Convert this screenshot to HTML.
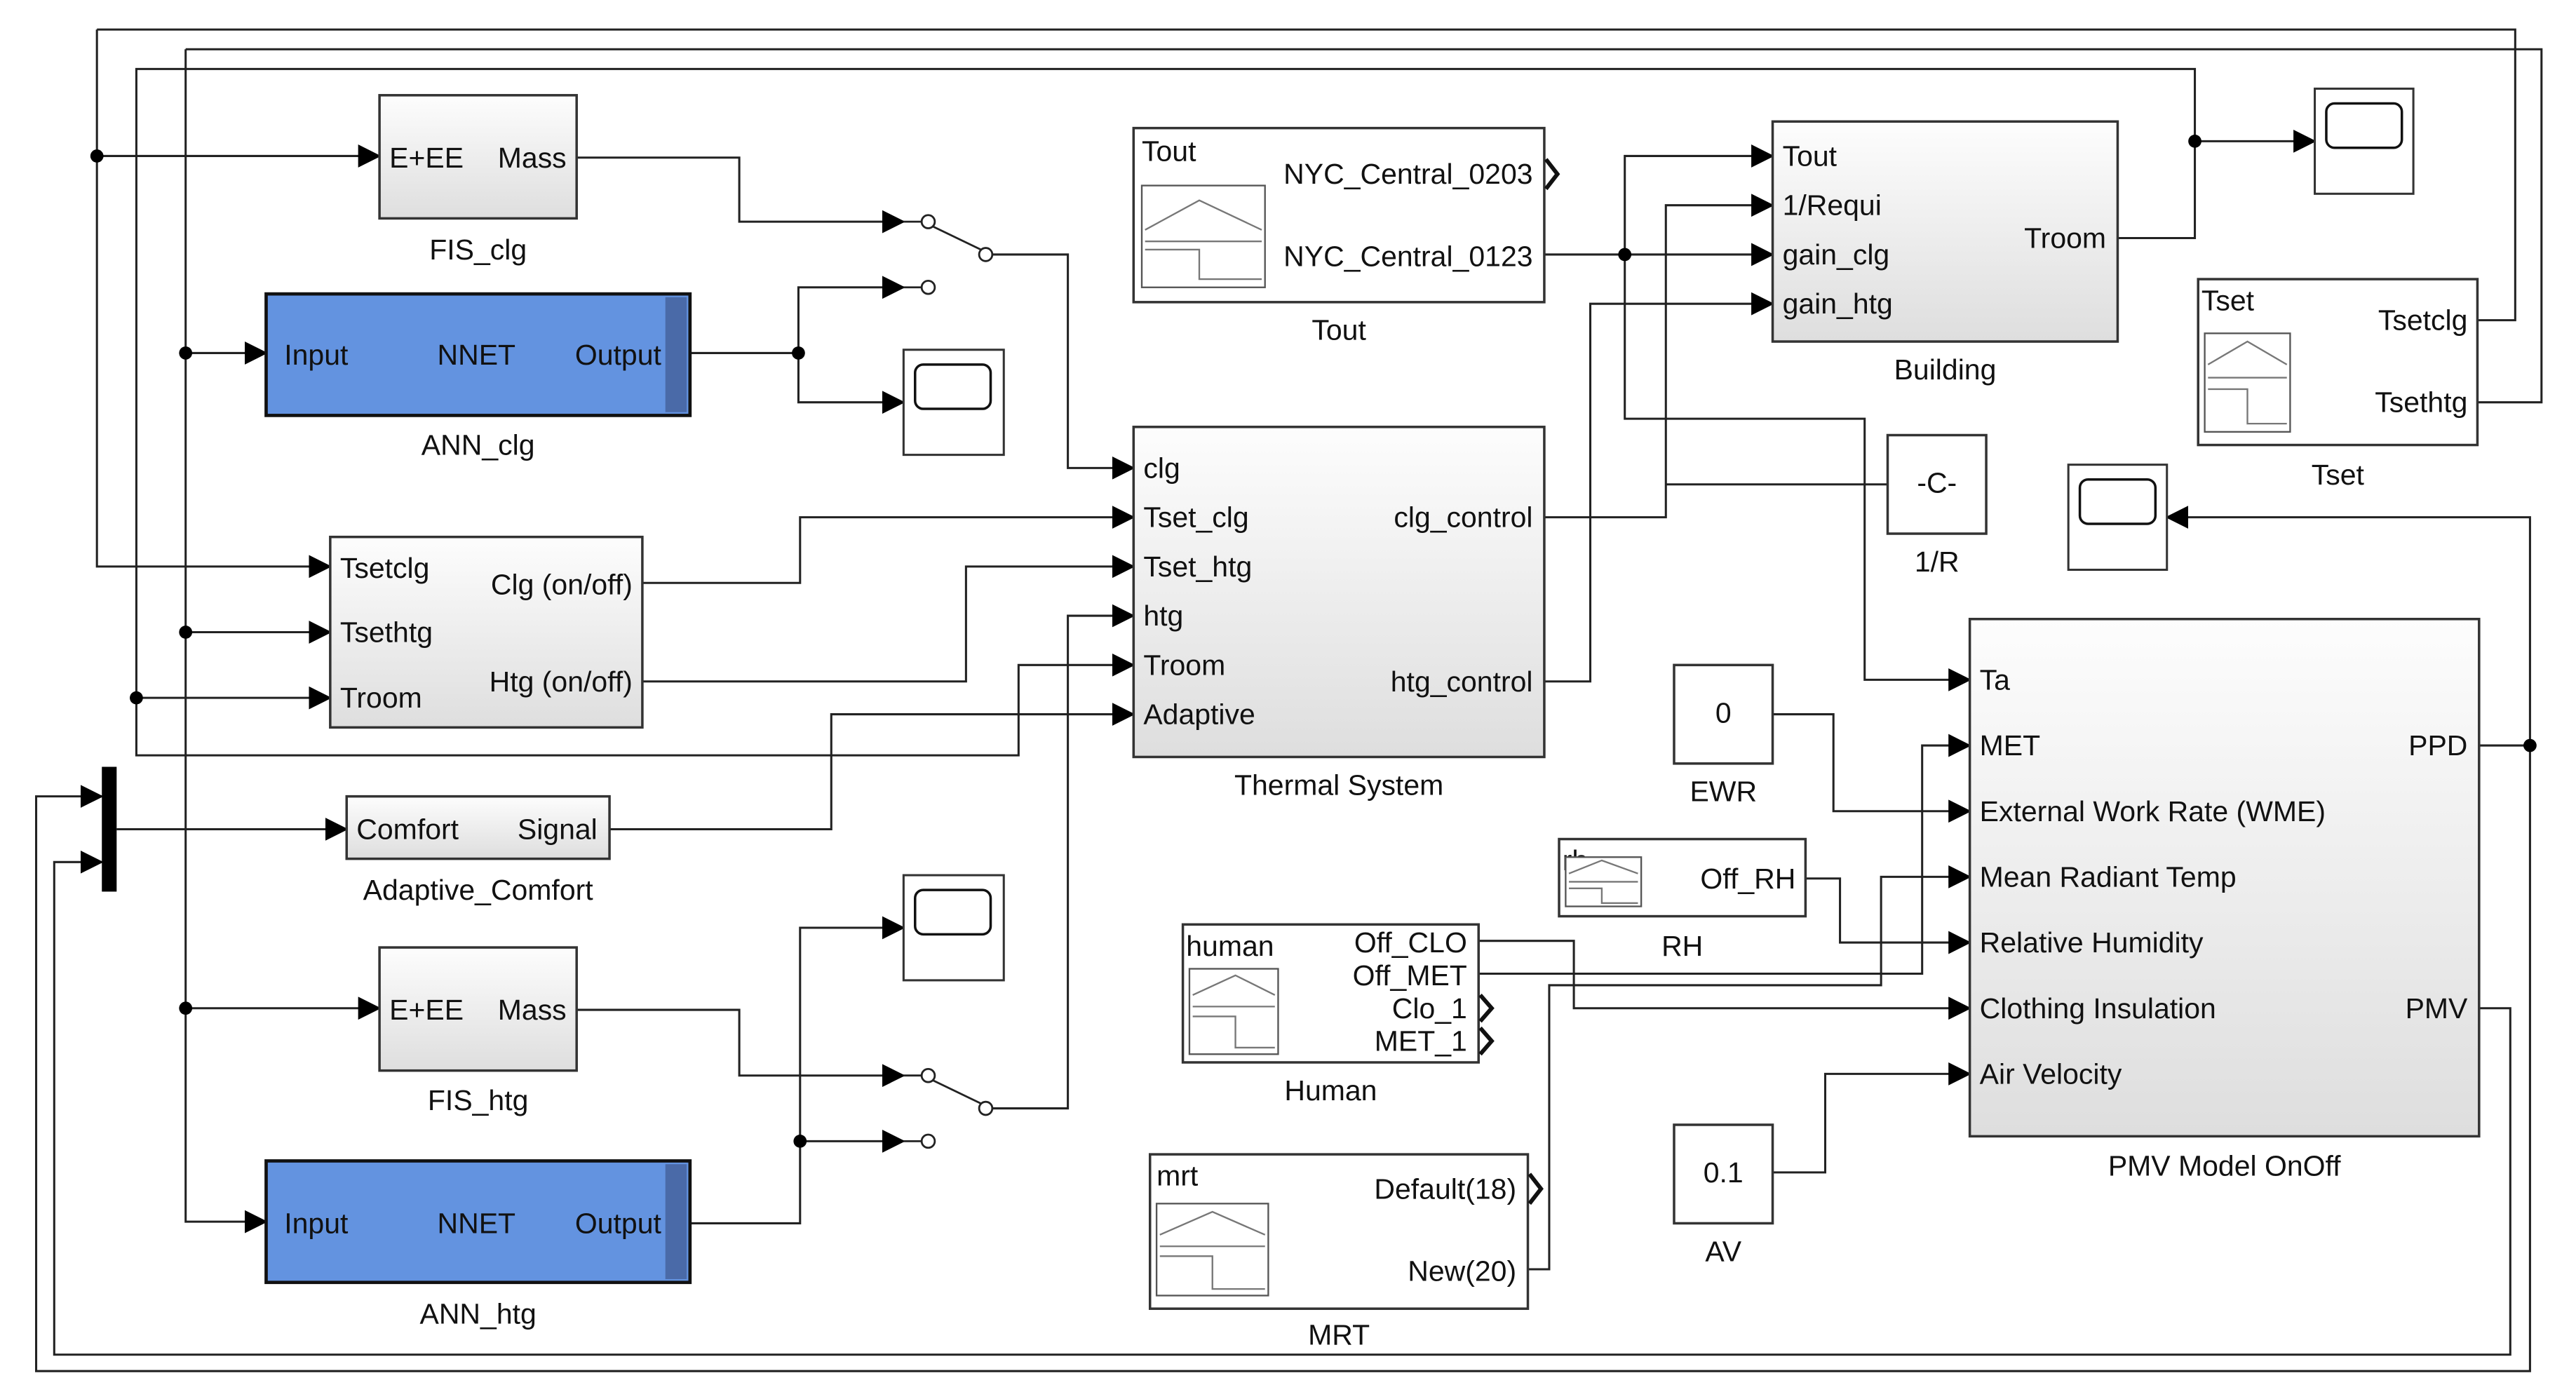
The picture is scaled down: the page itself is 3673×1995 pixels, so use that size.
<!DOCTYPE html>
<html><head><meta charset="utf-8"><style>
html,body{margin:0;padding:0;background:#fff;}
svg{display:block;}
text{font-family:"Liberation Sans",Arial,sans-serif;font-size:17.5px;fill:#111;}
.w{fill:none;stroke:#222;stroke-width:1.3;}
.g{fill:none;stroke:#777;stroke-width:1;}
.blk{stroke:#333;stroke-width:1.5;fill:url(#gr);}
</style></head><body>
<svg width="3673" height="1995" viewBox="0 0 1568 852" preserveAspectRatio="none">
<defs>
<linearGradient id="gr" x1="0" y1="0" x2="0" y2="1"><stop offset="0" stop-color="#fdfdfd"/><stop offset="1" stop-color="#dedede"/></linearGradient>
<marker id="a" markerWidth="14" markerHeight="14" refX="13" refY="7" orient="auto" markerUnits="userSpaceOnUse"><path d="M0,0 L14,7 L0,14z" fill="#000"/></marker>
</defs>
<!-- wires -->
<g class="w" marker-end="url(#a)">
<path d="M59,95 H231"/>
<path d="M59,18 H1531 V195 H1508" marker-end="none"/>
<path d="M59,18 V345 H201"/>
<path d="M113,30 H1547 V245 H1508" marker-end="none"/>
<path d="M113,30 V744 H162"/>
<path d="M113,215 H162"/><path d="M113,385 H201"/><path d="M113,614 H231"/>
<path d="M1289,145 H1336 V42 H83 V460 H620 V405 H690"/>
<path d="M1336,86 H1409"/>
<path d="M83,425 H201"/>
<path d="M351,96 H450 V135 H550"/>
<path d="M420,215 H486 V175 H550"/>
<path d="M486,215 V245 H550"/>
<path d="M604,155 H650 V285 H690"/>
<path d="M391,355 H487 V315 H690"/>
<path d="M391,415 H588 V345 H690"/>
<path d="M604,675 H650 V375 H690"/>
<path d="M371,505 H506 V435 H690"/>
<path d="M940,315 H1014 V125 H1079"/>
<path d="M1014,295 H1149" marker-end="none"/>
<path d="M940,415 H968 V185 H1079"/>
<path d="M940,155 H1079"/>
<path d="M989,155 V95 H1079"/>
<path d="M989,155 V255 H1135 V414 H1199"/>
<path d="M1079,435 H1116 V494 H1199"/>
<path d="M1099,535 H1120 V574 H1199"/>
<path d="M900,573 H958 V614 H1199"/>
<path d="M900,593 H1170 V454 H1199"/>
<path d="M930,773 H943 V600 H1145 V534 H1199"/>
<path d="M1079,714 H1111 V654 H1199"/>
<path d="M1540,454 V315 H1319"/>
<path d="M1509,454 H1540 V835 H22 V485 H62"/>
<path d="M1509,614 H1528 V825 H33 V525 H62"/>
<path d="M71,505 H211"/>
<path d="M351,615 H450 V655 H550"/>
<path d="M420,745 H487 V565 H550"/>
<path d="M487,695 H550"/>
</g>
<g fill="#000"><circle cx="59" cy="95" r="4"/><circle cx="113" cy="215" r="4"/><circle cx="113" cy="385" r="4"/><circle cx="113" cy="614" r="4"/><circle cx="83" cy="425" r="4"/><circle cx="486" cy="215" r="4"/><circle cx="487" cy="695" r="4"/><circle cx="989" cy="155" r="4"/><circle cx="1336" cy="86" r="4"/><circle cx="1540" cy="454" r="4"/></g>
<!-- switches -->
<g fill="#fff" stroke="#222" stroke-width="1.2">
<path d="M550,135 H561 M550,175 H561 M550,655 H561 M550,695 H561"/>
<circle cx="565" cy="135" r="4"/><circle cx="565" cy="175" r="4"/><circle cx="600" cy="155" r="4"/><path d="M568,138 L597,152"/>
<circle cx="565" cy="655" r="4"/><circle cx="565" cy="695" r="4"/><circle cx="600" cy="675" r="4"/><path d="M568,658 L597,672"/>
</g>
<!-- blocks -->
<rect class="blk" x="231" y="58" width="120" height="75"/>
<text x="237" y="102">E+EE</text><text x="303" y="102">Mass</text>
<text x="291" y="158" text-anchor="middle">FIS_clg</text>
<rect x="162" y="179" width="258" height="74" fill="#6393e0" stroke="#111" stroke-width="2"/>
<rect x="405" y="181" width="13" height="70" fill="#4a6aa8"/>
<text x="173" y="222">Input</text><text x="290" y="222" text-anchor="middle">NNET</text><text x="350" y="222">Output</text>
<text x="291" y="277" text-anchor="middle">ANN_clg</text>
<rect class="blk" x="231" y="577" width="120" height="75"/>
<text x="237" y="621">E+EE</text><text x="303" y="621">Mass</text>
<text x="291" y="676" text-anchor="middle">FIS_htg</text>
<rect x="162" y="707" width="258" height="74" fill="#6393e0" stroke="#111" stroke-width="2"/>
<rect x="405" y="709" width="13" height="70" fill="#4a6aa8"/>
<text x="173" y="751">Input</text><text x="290" y="751" text-anchor="middle">NNET</text><text x="350" y="751">Output</text>
<text x="291" y="806" text-anchor="middle">ANN_htg</text>
<rect class="blk" x="201" y="327" width="190" height="116"/>
<text x="207" y="352">Tsetclg</text><text x="207" y="391">Tsethtg</text><text x="207" y="431">Troom</text>
<text x="385" y="362" text-anchor="end">Clg (on/off)</text><text x="385" y="421" text-anchor="end">Htg (on/off)</text>
<rect x="62" y="467" width="9" height="76" fill="#000"/>
<rect class="blk" x="211" y="485" width="160" height="38"/>
<text x="217" y="511">Comfort</text><text x="315" y="511">Signal</text>
<text x="291" y="548" text-anchor="middle">Adaptive_Comfort</text>
<!-- scopes -->
<g>
<rect x="550" y="213" width="61" height="64" fill="#fff" stroke="#333" stroke-width="1.3"/><rect x="557" y="222" width="46" height="27" rx="5" fill="#fff" stroke="#111" stroke-width="1.5"/>
<rect x="550" y="533" width="61" height="64" fill="#fff" stroke="#333" stroke-width="1.3"/><rect x="557" y="542" width="46" height="27" rx="5" fill="#fff" stroke="#111" stroke-width="1.5"/>
<rect x="1409" y="54" width="60" height="64" fill="#fff" stroke="#333" stroke-width="1.3"/><rect x="1416" y="63" width="46" height="27" rx="5" fill="#fff" stroke="#111" stroke-width="1.5"/>
<rect x="1259" y="283" width="60" height="64" fill="#fff" stroke="#333" stroke-width="1.3"/><rect x="1266" y="292" width="46" height="27" rx="5" fill="#fff" stroke="#111" stroke-width="1.5"/>
</g>
<!-- Tout -->
<rect x="690" y="78" width="250" height="106" fill="#fff" stroke="#333" stroke-width="1.5"/>
<text x="695" y="98">Tout</text><text x="933" y="112" text-anchor="end">NYC_Central_0203</text><text x="933" y="162" text-anchor="end">NYC_Central_0123</text>
<rect x="695" y="113" width="75" height="62" fill="#fff" stroke="#555"/><path class="g" d="M697,140 L730,122 L768,140 M697,147 H768 M697,152 H730 V170 H768"/>
<path d="M941,97 L948,106 L941,115" fill="none" stroke="#111" stroke-width="2.5"/>
<text x="815" y="207" text-anchor="middle">Tout</text>
<!-- Building -->
<rect class="blk" x="1079" y="74" width="210" height="134"/>
<text x="1085" y="101">Tout</text><text x="1085" y="131">1/Requi</text><text x="1085" y="161">gain_clg</text><text x="1085" y="191">gain_htg</text>
<text x="1282" y="151" text-anchor="end">Troom</text>
<text x="1184" y="231" text-anchor="middle">Building</text>
<!-- Tset -->
<rect x="1338" y="170" width="170" height="101" fill="#fff" stroke="#333" stroke-width="1.5"/>
<text x="1340" y="189">Tset</text><text x="1502" y="201" text-anchor="end">Tsetclg</text><text x="1502" y="251" text-anchor="end">Tsethtg</text>
<rect x="1342" y="203" width="52" height="60" fill="#fff" stroke="#555"/><path class="g" d="M1344,222 L1368,208 L1392,222 M1344,230 H1392 M1344,237 H1368 V258 H1392"/>
<text x="1423" y="295" text-anchor="middle">Tset</text>
<!-- -C- -->
<rect x="1149" y="265" width="60" height="60" fill="#fff" stroke="#333" stroke-width="1.5"/>
<text x="1179" y="300" text-anchor="middle">-C-</text><text x="1179" y="348" text-anchor="middle">1/R</text>
<!-- Thermal -->
<rect class="blk" x="690" y="260" width="250" height="201"/>
<text x="696" y="291">clg</text><text x="696" y="321">Tset_clg</text><text x="696" y="351">Tset_htg</text><text x="696" y="381">htg</text><text x="696" y="411">Troom</text><text x="696" y="441">Adaptive</text>
<text x="933" y="321" text-anchor="end">clg_control</text><text x="933" y="421" text-anchor="end">htg_control</text>
<text x="815" y="484" text-anchor="middle">Thermal System</text>
<!-- EWR -->
<rect x="1019" y="405" width="60" height="60" fill="#fff" stroke="#333" stroke-width="1.5"/>
<text x="1049" y="440" text-anchor="middle">0</text><text x="1049" y="488" text-anchor="middle">EWR</text>
<!-- RH -->
<rect x="949" y="511" width="150" height="47" fill="#fff" stroke="#333" stroke-width="1.5"/>
<text x="951" y="530">rh</text><text x="1093" y="541" text-anchor="end">Off_RH</text>
<rect x="953" y="522" width="46" height="30" fill="#fff" stroke="#555"/><path class="g" d="M955,532 L975,524 L997,532 M955,537 H997 M955,541 H975 V550 H997"/>
<text x="1024" y="582" text-anchor="middle">RH</text>
<!-- Human -->
<rect x="720" y="563" width="180" height="84" fill="#fff" stroke="#333" stroke-width="1.5"/>
<text x="722" y="582">human</text><text x="893" y="580" text-anchor="end">Off_CLO</text><text x="893" y="600" text-anchor="end">Off_MET</text><text x="893" y="620" text-anchor="end">Clo_1</text><text x="893" y="640" text-anchor="end">MET_1</text>
<rect x="724" y="590" width="54" height="52" fill="#fff" stroke="#555"/><path class="g" d="M726,606 L752,594 L776,606 M726,613 H776 M726,619 H752 V638 H776"/>
<path d="M901,606 L908,614 L901,622 M901,626 L908,634 L901,642" fill="none" stroke="#111" stroke-width="2.5"/>
<text x="810" y="670" text-anchor="middle">Human</text>
<!-- MRT -->
<rect x="700" y="703" width="230" height="94" fill="#fff" stroke="#333" stroke-width="1.5"/>
<text x="704" y="722">mrt</text><text x="923" y="730" text-anchor="end">Default(18)</text><text x="923" y="780" text-anchor="end">New(20)</text>
<rect x="704" y="733" width="68" height="56" fill="#fff" stroke="#555"/><path class="g" d="M706,752 L738,738 L770,752 M706,759 H770 M706,765 H738 V785 H770"/>
<path d="M931,715 L938,724 L931,733" fill="none" stroke="#111" stroke-width="2.5"/>
<text x="815" y="819" text-anchor="middle">MRT</text>
<!-- AV -->
<rect x="1019" y="685" width="60" height="60" fill="#fff" stroke="#333" stroke-width="1.5"/>
<text x="1049" y="720" text-anchor="middle">0.1</text><text x="1049" y="768" text-anchor="middle">AV</text>
<!-- PMV -->
<rect class="blk" x="1199" y="377" width="310" height="315"/>
<text x="1205" y="420">Ta</text><text x="1205" y="460">MET</text><text x="1205" y="500">External Work Rate (WME)</text><text x="1205" y="540">Mean Radiant Temp</text><text x="1205" y="580">Relative Humidity</text><text x="1205" y="620">Clothing Insulation</text><text x="1205" y="660">Air Velocity</text>
<text x="1502" y="460" text-anchor="end">PPD</text><text x="1502" y="620" text-anchor="end">PMV</text>
<text x="1354" y="716" text-anchor="middle">PMV Model OnOff</text>
</svg>
</body></html>
